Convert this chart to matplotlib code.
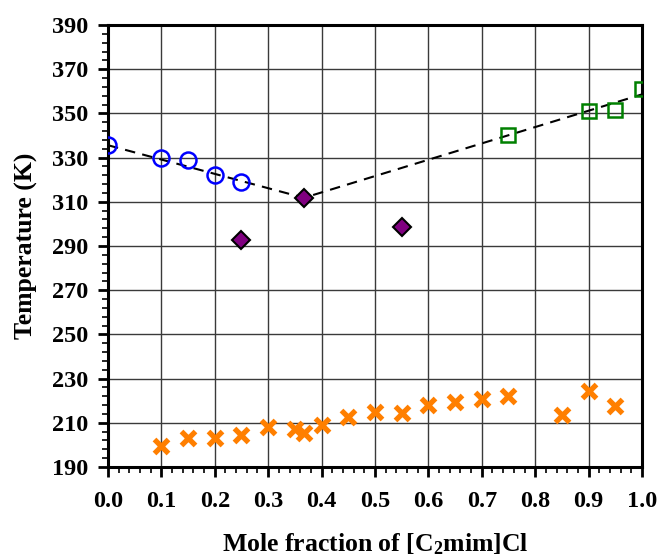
import matplotlib
matplotlib.use("Agg")
import matplotlib.pyplot as plt
from matplotlib.ticker import MultipleLocator, FormatStrFormatter

# liquidus, rich in the other component (open circles)
x_circ = [0.0, 0.1, 0.15, 0.2, 0.25]
t_circ = [335.6, 329.8, 329.1, 322.0, 319.0]

# eutectic / solid-solid transitions (diamonds)
x_dia = [0.25, 0.367, 0.55]
t_dia = [292.5, 311.8, 298.5]

# liquidus, rich in [C2mim]Cl (open squares)
x_sq = [0.75, 0.9, 0.95, 1.0]
t_sq = [340.2, 351.2, 351.4, 361.2]

# glass transitions (crosses)
x_tg = [0.1, 0.15, 0.2, 0.25, 0.3, 0.35, 0.367, 0.4, 0.45, 0.5,
        0.55, 0.6, 0.65, 0.7, 0.75, 0.85, 0.9, 0.95]
t_tg = [199.6, 203.1, 203.1, 204.6, 208.3, 207.0, 205.2, 208.8, 212.4, 214.8,
        214.6, 218.0, 219.4, 220.7, 222.1, 213.6, 224.4, 217.7]

# dashed guide lines through the liquidus
x_line = [0.0, 0.367, 1.0]
t_line = [335.6, 311.8, 358.6]

plt.rcParams['font.family'] = ['Liberation Serif', 'DejaVu Serif']
plt.rcParams['font.weight'] = 'bold'
plt.rcParams['mathtext.fontset'] = 'custom'
plt.rcParams['mathtext.rm'] = 'Liberation Serif:bold'
plt.rcParams['mathtext.bf'] = 'Liberation Serif:bold'
plt.rcParams['mathtext.it'] = 'Liberation Serif:italic:bold'

fig = plt.figure(figsize=(6.6, 5.59), dpi=100)
ax = fig.add_axes([0.1636, 0.1646, 0.8091, 0.7907])

ax.grid(True, which='major', color='#3a3a3a', lw=1.0, zorder=0)
ax.set_axisbelow(True)

ax.plot(x_line, t_line, ls=(0, (5, 3.5)), color='black', lw=1.5, zorder=2)
ax.plot(x_circ, t_circ, 'o', ms=11.5, mfc='none', mec='#0000ff', mew=1.8, zorder=3)
ax.plot(x_sq, t_sq, 's', ms=10, mfc='none', mec='#008000', mew=1.8, zorder=3)
ax.plot(x_dia, t_dia, 'D', ms=9.5, mfc='#800080', mec='black', mew=1.5, zorder=4)
ax.plot(x_tg, t_tg, 'x', ms=9.5, mec='#ff7f00', mew=3.8, zorder=3)

ax.set_xlim(0, 1.0)
ax.set_ylim(190, 390)
ax.xaxis.set_major_locator(MultipleLocator(0.1))
ax.xaxis.set_minor_locator(MultipleLocator(0.02))
ax.yaxis.set_major_locator(MultipleLocator(20, offset=10))
ax.yaxis.set_minor_locator(MultipleLocator(4, offset=2))
ax.xaxis.set_major_formatter(FormatStrFormatter('%.1f'))

ax.tick_params(which='major', direction='out', length=7, width=2, labelsize=17.5)
ax.tick_params(axis='x', which='major', pad=10)
ax.tick_params(axis='y', which='major', pad=7)
ax.tick_params(which='minor', direction='out', length=4, width=1.2)
for lab in ax.get_xticklabels() + ax.get_yticklabels():
    lab.set_fontweight('bold')
for s in ax.spines.values():
    s.set_linewidth(2.2)

ax.set_xlabel('Mole fraction of [C$_\\mathrm{2}$mim]Cl', fontsize=18.5, fontweight='bold', labelpad=14)
ax.set_ylabel('Temperature (K)', fontsize=18.5, fontweight='bold', labelpad=10)

fig.savefig('out.png', dpi=100)
